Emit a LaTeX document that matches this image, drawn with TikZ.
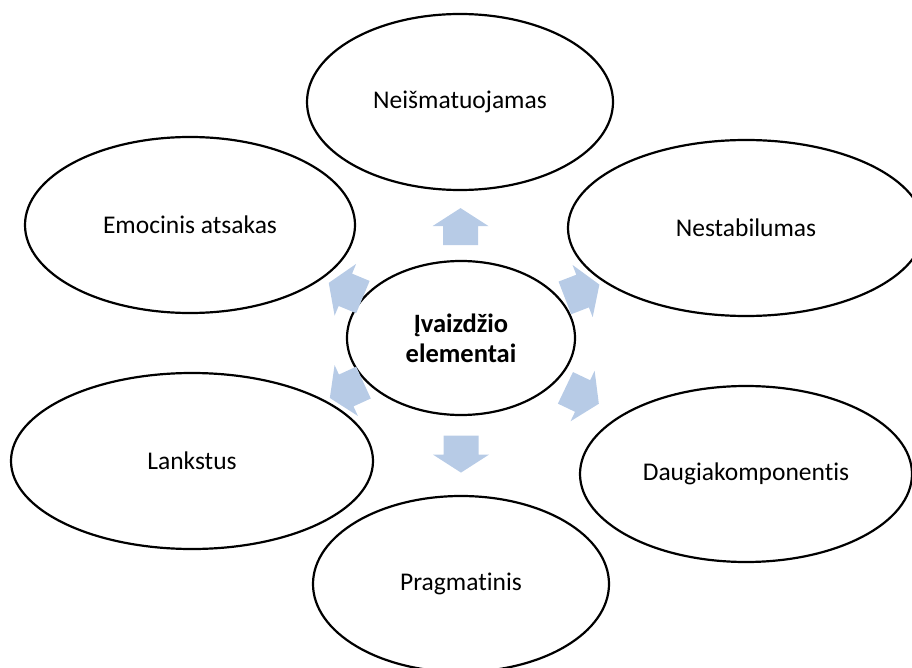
\documentclass[tikz,border=0pt]{standalone}
\usepackage{fontspec}
\setmainfont{Carlito}[Ligatures=NoCommon]
\usetikzlibrary{shapes.geometric,calc}
\definecolor{arrowfill}{RGB}{183,203,230}
\begin{document}
\begin{tikzpicture}[x=1pt,y=-1pt,
  bubble/.style={ellipse, draw=black, line width=2.2pt, inner sep=0pt,
    font=\fontsize{25.5}{30}\selectfont, align=center},
  hub/.style={bubble, font=\fontsize{26.5}{30}\selectfont\bfseries},
  blockarrow/.pic={\fill[arrowfill] (-18.5,-17.5) -- (0.5,-17.5) -- (0.5,-28)
    -- (18.5,0) -- (0.5,28) -- (0.5,17.5) -- (-18.5,17.5) -- cycle;}
]
\useasboundingbox (0,0) rectangle (912,668);
\clip (0,0) rectangle (912,668);

% hub and satellites
\node[hub, minimum width=228pt, minimum height=154pt] (c) at (461,338) {Įvaizdžio\\elementai};
\node[bubble, minimum width=306pt, minimum height=176pt] (n1) at (460,102) {Neišmatuojamas};
\node[bubble, minimum width=356pt, minimum height=176pt] (n2) at (746,228) {Nestabilumas};
\node[bubble, minimum width=332pt, minimum height=176pt] (n3) at (746,474) {Daugiakomponentis};
\node[bubble, minimum width=296pt, minimum height=176pt] (n4) at (461,584) {Pragmatinis};
\node[bubble, minimum width=362pt, minimum height=176pt] (n5) at (192,461) {Lankstus};
\node[bubble, minimum width=330pt, minimum height=176pt] (n6) at (190,225) {Emocinis atsakas};

% diverging block arrows
\pic[rotate=90]     at ($(c)!0.472!(n1)$) {blockarrow};
\pic[rotate=21.1]   at ($(c)!0.425!(n2)$) {blockarrow};
\pic[rotate=-25.5]  at ($(c)!0.425!(n3)$) {blockarrow};
\pic[rotate=-90]    at ($(c)!0.472!(n4)$) {blockarrow};
\pic[rotate=-155.4] at ($(c)!0.425!(n5)$) {blockarrow};
\pic[rotate=157.4]  at ($(c)!0.425!(n6)$) {blockarrow};
\end{tikzpicture}
\end{document}
